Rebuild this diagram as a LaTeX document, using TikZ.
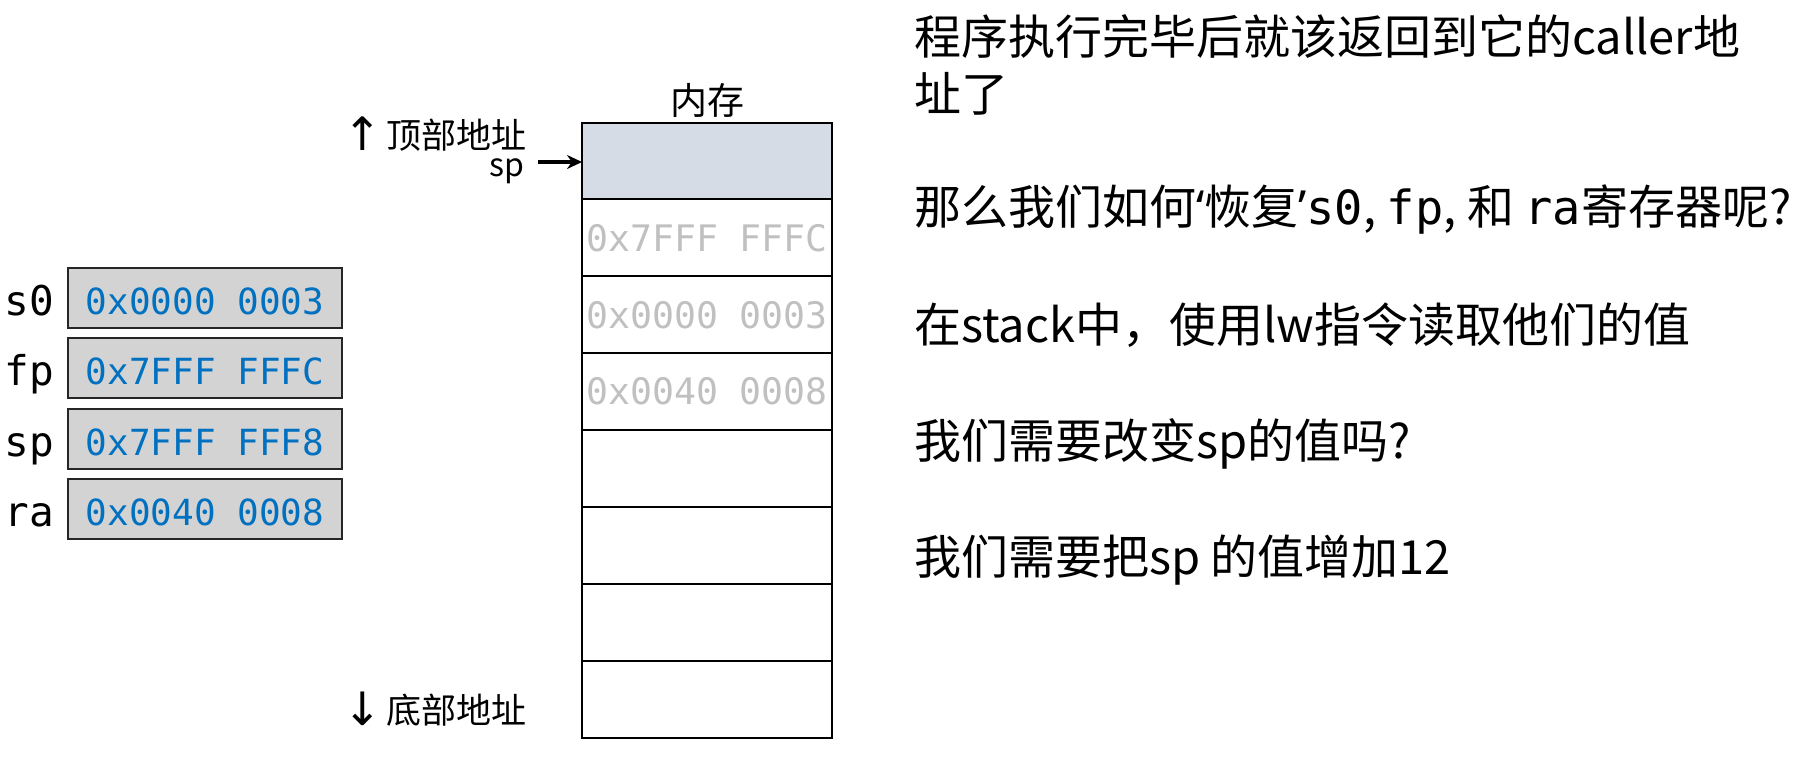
\documentclass[tikz,border=0pt]{standalone}
\usepackage{fontspec}
\setmainfont{Noto Sans CJK SC}
\newfontfamily\cjk{Noto Sans CJK SC}
\newfontfamily\monof{DejaVu Sans Mono}
\newfontfamily\latinf{Noto Sans}
\newfontfamily\symf{DejaVu Sans}
\usetikzlibrary{arrows.meta}
\definecolor{valblue}{RGB}{0,112,192}
\definecolor{regfill}{RGB}{211,211,211}
\definecolor{topfill}{RGB}{214,220,229}
\definecolor{memgray}{RGB}{192,192,192}
\tikzset{
  regbox/.style={draw=black!85, line width=2pt, fill=regfill},
  reglabel/.style={anchor=base east, inner sep=0pt, font=\monof\fontsize{41}{41}\selectfont},
  regval/.style={anchor=base, inner sep=0pt, text=valblue, font=\monof\fontsize{36}{36}\selectfont},
  memval/.style={anchor=base, inner sep=0pt, text=memgray, font=\monof\fontsize{36.5}{36.5}\selectfont},
  memline/.style={draw=black, line width=2pt},
  note/.style={anchor=base west, inner sep=0pt, font=\cjk\fontsize{47}{57}\selectfont},
  side/.style={anchor=base west, inner sep=0pt, font=\cjk\fontsize{35}{35}\selectfont},
  arrowsym/.style={anchor=base west, inner sep=0pt, font=\symf\fontsize{46}{46}\selectfont},
}
\begin{document}
\begin{tikzpicture}[x=1pt,y=-1pt]
\useasboundingbox (0,0) rectangle (1802,756);
% memory column
\node[anchor=base, inner sep=0pt, font=\cjk\fontsize{37}{37}\selectfont] (memtitle) at (707,114) {内存};
\fill[topfill] (582,123) rectangle (832,199);
\foreach \ya/\yb [count=\i] in {123/199,199/276,276/353,353/430,430/507,507/584,584/661,661/738}{
  \draw[memline] (582,\ya) rectangle (832,\yb);
}
\node[memval] (m1) at (707,251) {0x7FFF FFFC};
\node[memval] (m2) at (707,328) {0x0000 0003};
\node[memval] (m3) at (707,404) {0x0040 0008};
\coordinate (memtop) at (582,162);
% side labels
\node[arrowsym] (uparr) at (343,150) {↑};
\node[side] (top) at (386,148) {顶部地址};
\node[arrowsym] (downarr) at (343,725) {↓};
\node[side] (bottom) at (386,723) {底部地址};
\node[anchor=base west, inner sep=0pt, font=\cjk\fontsize{32}{32}\selectfont] (splab) at (489,176) {sp};
\coordinate (sparrow) at (538,162);
\draw[line width=3.5pt, -{Stealth[length=15pt,width=14pt]}] (sparrow) -- (memtop);
% registers
\foreach \y/\n/\v [count=\i] in {298/s0/0x0000 0003,368/fp/0x7FFF FFFC,439/sp/0x7FFF FFF8,509/ra/0x0040 0008}{
  \draw[regbox] (68,\y-30) rectangle (342,\y+30);
  \node[reglabel] (lab\i) at (54,\y+17) {\n};
  \node[regval] (val\i) at (205,\y+16) {\v};
}
% notes
\node[note] (n1a) at (914,54) {程序执行完毕后就该返回到它的caller地};
\node[note] (n1b) at (914,111) {址了};
\node[note] (n2) at (914,224) {那么我们如何{\latinf‘}恢复{\latinf’}{\monof s0}, {\monof fp}, 和 {\monof ra}寄存器呢?};
\node[note] (n3) at (914,342) {在stack中，使用lw指令读取他们的值};
\node[note] (n4) at (914,458) {我们需要改变sp的值吗?};
\node[note] (n5) at (914,574) {我们需要把sp 的值增加12};
\end{tikzpicture}
\end{document}
